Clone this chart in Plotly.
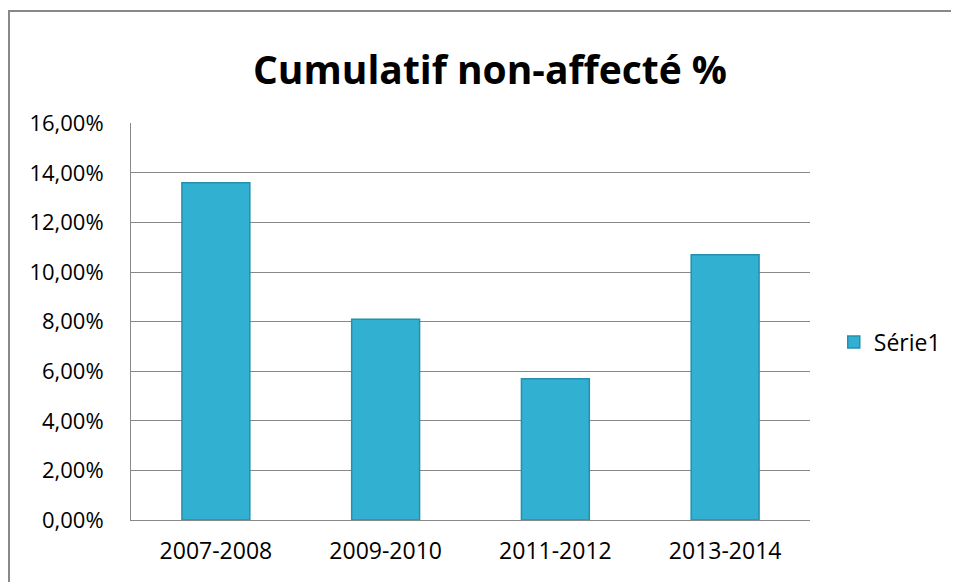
import plotly.graph_objects as go

categories = ["2007-2008", "2009-2010", "2011-2012", "2013-2014"]
values = [0.136, 0.081, 0.057, 0.107]
series_name = "Série1"
title_text = "Cumulatif non-affecté %"
y_ticks = [0, 0.02, 0.04, 0.06, 0.08, 0.10, 0.12, 0.14, 0.16]

FONT = "Open Sans, Noto Sans, sans-serif"

# page has an 8px body margin, so the figure is positioned 8px in
W, H = 951, 574
L, T, PW, PH = 123, 115, 679, 397

fig = go.Figure()
fig.add_trace(go.Bar(
    x=categories, y=values, name=series_name,
    marker=dict(color="#31B0D1", line=dict(color="#2590AE", width=1.5)),
    showlegend=True,
))

fig.update_layout(
    width=W, height=H,
    margin=dict(l=L, r=W - L - PW, t=T, b=H - T - PH, autoexpand=False),
    paper_bgcolor="white", plot_bgcolor="white",
    separators=", ",
    bargap=0.6,
    font=dict(family=FONT, size=22, color="black"),
    title=dict(text="<b>" + title_text + "</b>", x=(490 - 8 - L) / PW, xref="paper",
               xanchor="center", y=(H - 70 + 8) / H, yanchor="middle",
               font=dict(size=39, family=FONT, color="black")),
    legend=dict(x=1.035, y=(520 - 342) / PH, xanchor="left", yanchor="middle",
                font=dict(size=23, family=FONT), itemwidth=30,
                bgcolor="rgba(0,0,0,0)"),
    xaxis=dict(showgrid=False, showline=True, linecolor="#888888", linewidth=1,
               ticks="outside", ticklen=10, tickcolor="rgba(0,0,0,0)",
               tickfont=dict(size=23)),
    yaxis=dict(range=[0, 0.1601], tickvals=y_ticks, tickformat=".2%",
               showgrid=True, gridcolor="#888888", gridwidth=1,
               showline=True, linecolor="#888888", linewidth=1,
               ticks="outside", ticklen=22, tickcolor="rgba(0,0,0,0)",
               tickfont=dict(size=22), zeroline=False),
    shapes=[dict(type="rect", xref="paper", yref="paper",
                 x0=(9 - 8 - L) / PW, x1=1.3, y0=-0.3, y1=(520 - 11) / PH,
                 line=dict(color="#888888", width=2), fillcolor="rgba(0,0,0,0)",
                 layer="below")],
)

fig.write_html("out.html")
